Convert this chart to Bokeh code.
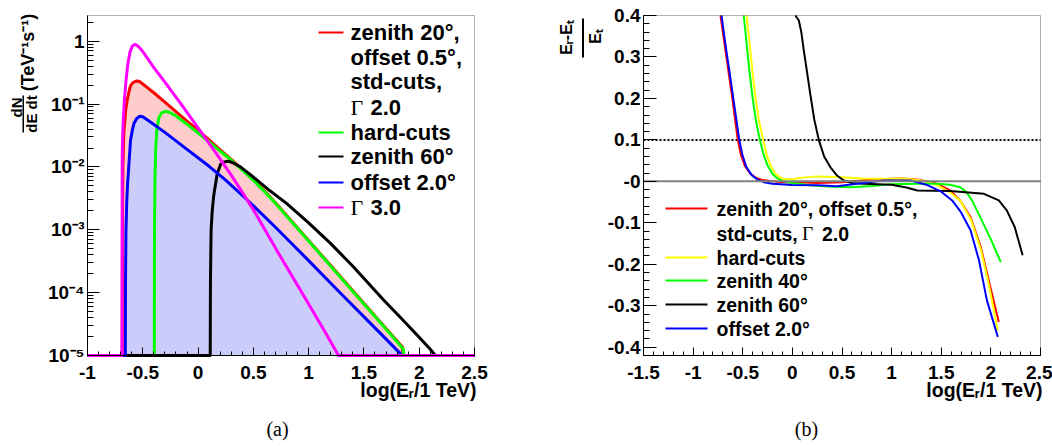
import math
from bokeh.plotting import figure
from bokeh.layouts import row
from bokeh.models import (Range1d, FixedTicker, SingleIntervalTicker,
                          CustomJSTickFormatter, Label, BoxAnnotation)
from bokeh.embed import file_html
from bokeh.resources import INLINE

# ---------------- data: panel (a)  log10(E_r/1 TeV) vs log10(dN/dE dt) ----------------
FLOOR_LOG = -5.0   # histogram minimum drawn at 1e-5

a_std_x = [-1.0, -0.686, -0.684, -0.68, -0.672, -0.655, -0.641, -0.625, -0.611, -0.59, -0.57,
           -0.551, -0.53, -0.50, -0.45, -0.40, -0.30, -0.20, -0.10, 0.00, 0.10, 0.20, 0.30,
           0.40, 0.50, 0.60, 0.70, 0.80, 0.90, 1.00, 1.20, 1.40, 1.60, 1.80, 1.85, 1.852, 2.5]
a_std_logy = [-5, -5, -3.0, -2.0, -1.47, -1.10, -0.94, -0.80, -0.71, -0.66, -0.64,
              -0.632, -0.64, -0.68, -0.75, -0.82, -0.97, -1.12, -1.27, -1.42, -1.57, -1.73, -1.88,
              -2.04, -2.20, -2.38, -2.57, -2.77, -2.97, -3.17, -3.57, -3.97, -4.37, -4.77, -4.87, -5, -5]

a_hard_x = [-1.0, -0.396, -0.394, -0.39, -0.383, -0.372, -0.355, -0.33, -0.295, -0.26, -0.20,
            -0.10, 0.00, 0.10, 0.20, 0.30, 0.40, 0.50, 0.60, 0.70, 0.80, 0.90, 1.00, 1.20,
            1.40, 1.60, 1.80, 1.857, 1.859, 2.5]
a_hard_logy = [-5, -5, -3.0, -2.2, -1.7, -1.40, -1.22, -1.14, -1.115, -1.13, -1.19,
               -1.32, -1.46, -1.60, -1.75, -1.89, -2.05, -2.21, -2.39, -2.58, -2.78, -2.98, -3.18, -3.58,
               -3.98, -4.38, -4.78, -4.90, -5, -5]

a_z60_x = [-1.0, 0.110, 0.112, 0.118, 0.128, 0.142, 0.173, 0.203, 0.235, 0.272, 0.31, 0.383,
           0.45, 0.534, 0.65, 0.80, 1.00, 1.20, 1.40, 1.68, 1.85, 2.01, 2.10, 2.146, 2.148, 2.5]
a_z60_logy = [-5, -5, -3.8, -3.0, -2.7, -2.45, -2.11, -1.96, -1.92, -1.91, -1.93, -2.0,
              -2.09, -2.21, -2.38, -2.58, -2.89, -3.22, -3.58, -4.12, -4.43, -4.73, -4.90, -5.0, -5, -5]

a_off2_x = [-1.0, -0.658, -0.656, -0.652, -0.645, -0.637, -0.627, -0.611, -0.595, -0.58, -0.555,
            -0.527, -0.50, -0.45, -0.30, -0.10, 0.10, 0.25, 0.46, 0.70, 1.00, 1.30, 1.60, 1.83,
            1.832, 2.5]
a_off2_logy = [-5, -5, -3.8, -3.0, -2.55, -2.25, -2.0, -1.58, -1.42, -1.31, -1.23,
               -1.194, -1.20, -1.26, -1.45, -1.72, -1.99, -2.21, -2.55, -2.96, -3.49, -4.03, -4.56, -4.97,
               -5, -5]

a_g3_x = [-1.0, -0.688, -0.686, -0.68, -0.675, -0.665, -0.65, -0.635, -0.615, -0.595, -0.572,
          -0.55, -0.52, -0.49, -0.40, -0.30, -0.15, 0.00, 0.15, 0.30, 0.50, 0.73, 1.00, 1.15,
          1.27, 1.272, 2.5]
a_g3_logy = [-5, -5, -1.8, -1.4, -1.2, -0.9, -0.6, -0.36, -0.17, -0.08, -0.05,
             -0.07, -0.12, -0.19, -0.42, -0.65, -1.01, -1.38, -1.75, -2.13, -2.68, -3.38, -4.18, -4.63,
             -5.0, -5, -5]

a_yticks_exp = [-5, -4, -3, -2, -1, 0]

# ---------------- data: panel (b)  (E_r - E_t)/E_t vs log10(E_r/1 TeV) ----------------
b_std_x = [-0.724, -0.695, -0.665, -0.635, -0.605, -0.578, -0.55, -0.52, -0.48, -0.43,
           -0.37, -0.30, -0.20, -0.10, 0.10, 0.25, 0.50, 0.75, 1.00, 1.12, 1.30, 1.45, 1.59,
           1.69, 1.795, 1.90, 1.98, 2.08]
b_std_y = [0.40, 0.35, 0.30, 0.25, 0.20, 0.15, 0.10, 0.065, 0.038, 0.02,
           0.009, 0.003, 0.0, -0.002, -0.003, -0.004, -0.002, 0.003, 0.006, 0.007, 0.003, -0.005, -0.022,
           -0.046, -0.086, -0.16, -0.24, -0.339]

b_hard_x = [-0.462, -0.43, -0.40, -0.37, -0.34, -0.294, -0.26, -0.22, -0.17, -0.10,
            0.00, 0.10, 0.25, 0.50, 0.70, 0.92, 1.12, 1.30, 1.45, 1.59, 1.69, 1.795, 1.90,
            1.98, 2.07]
b_hard_y = [0.40, 0.33, 0.26, 0.20, 0.15, 0.10, 0.065, 0.038, 0.018, 0.006,
            0.005, 0.009, 0.012, 0.010, 0.007, 0.0065, 0.007, 0.002, -0.008, -0.027, -0.046, -0.09, -0.165,
            -0.25, -0.36]

b_z40_x = [-0.49, -0.46, -0.43, -0.40, -0.37, -0.328, -0.29, -0.25, -0.20, -0.15,
           -0.087, 0.00, 0.20, 0.40, 0.586, 0.80, 1.00, 1.26, 1.45, 1.59, 1.69, 1.75, 1.81,
           1.90, 2.00, 2.10]
b_z40_y = [0.40, 0.33, 0.26, 0.20, 0.15, 0.10, 0.065, 0.038, 0.018, 0.007,
           0.0, -0.004, -0.010, -0.013, -0.014, -0.011, -0.007, -0.006, -0.006, -0.008, -0.014, -0.025, -0.046,
           -0.09, -0.14, -0.195]

b_z60_x = [0.03, 0.065, 0.09, 0.115, 0.15, 0.18, 0.22, 0.266, 0.32, 0.384, 0.45,
           0.518, 0.60, 0.72, 1.00, 1.15, 1.26, 1.59, 1.93, 2.08, 2.16, 2.24, 2.32]
b_z60_y = [0.40, 0.388, 0.36, 0.316, 0.26, 0.211, 0.15, 0.10, 0.06, 0.034, 0.014,
           0.002, -0.004, -0.006, -0.008, -0.015, -0.022, -0.023, -0.030, -0.046, -0.07, -0.11, -0.178]

b_off2_x = [-0.714, -0.686, -0.656, -0.625, -0.595, -0.565, -0.535, -0.505, -0.465, -0.41,
            -0.35, -0.288, -0.20, 0.00, 0.25, 0.45, 0.65, 0.92, 1.19, 1.35, 1.50, 1.61, 1.70,
            1.795, 1.88, 1.96, 2.07]
b_off2_y = [0.40, 0.35, 0.30, 0.25, 0.20, 0.15, 0.10, 0.065, 0.035, 0.015,
            0.004, -0.002, -0.006, -0.009, -0.0096, -0.012, -0.006, 0.002, 0.002, -0.008, -0.025, -0.046, -0.075,
            -0.118, -0.19, -0.287, -0.375]

b_ref_zero = 0.0
b_ref_cut = 0.1

legend_a = ["zenith 20°,", "offset 0.5°,", "std-cuts,", "2.0", "hard-cuts", "zenith 60°", "offset 2.0°", "3.0"]
legend_b = ["zenith 20°, offset 0.5°,", "std-cuts,", "2.0", "hard-cuts", "zenith 40°", "zenith 60°", "offset 2.0°"]

# ---------------- helpers (layout: reference pixel positions -> data coords) ----------------
W, H = 526, 446
SANS = "Liberation Sans"
SERIF = "Liberation Serif"

LXR = (-1.0, 2.5); LFX = (87, 474)       # panel (a) box in page pixels
LYR = (-5.0, 0.409); FY = (15, 355)       # both boxes: top / bottom pixel
RXR = (-1.5, 2.5); RFX = (643, 1040)      # panel (b) box in page pixels
RYR = (-0.42, 0.40)
OFF = 526                                 # page x of panel (b) canvas


def lx(px):
    return LXR[0] + (px - LFX[0]) * (LXR[1] - LXR[0]) / (LFX[1] - LFX[0])


def ly(py):
    return 10 ** (LYR[0] + (FY[1] - py) * (LYR[1] - LYR[0]) / (FY[1] - FY[0]))


def rx(px):
    return RXR[0] + (px - RFX[0]) * (RXR[1] - RXR[0]) / (RFX[1] - RFX[0])


def ry(py):
    return RYR[0] + (FY[1] - py) * (RYR[1] - RYR[0]) / (FY[1] - FY[0])


def lab(p, x, y, text, size, font=SANS, style="bold", align="left", baseline="middle", angle=0.0):
    p.add_layout(Label(x=x, y=y, text=text, text_font=font, text_font_style=style,
                       text_font_size=size, text_align=align, text_baseline=baseline,
                       angle=angle, text_color="black"))


def bar(p, l, r, t, b, color):
    p.add_layout(BoxAnnotation(left=l, right=r, top=t, bottom=b, fill_color=color,
                               fill_alpha=1.0, line_alpha=0.0, level="overlay"))


def make_fig(xr, yr, log=False):
    kw = dict(width=W, height=H, output_backend="svg", toolbar_location=None, title=None,
              x_range=Range1d(*xr), y_range=Range1d(*yr),
              min_border=0, min_border_left=0, min_border_right=0,
              min_border_top=0, min_border_bottom=0)
    if log:
        kw["y_axis_type"] = "log"
    p = figure(**kw)
    for ax in (p.xaxis[0], p.yaxis[0]):
        ax.axis_line_color = "black"
        ax.major_tick_line_color = "black"
        ax.minor_tick_line_color = "black"
        ax.major_tick_out = 0
        ax.minor_tick_out = 0
        ax.major_label_text_font = SANS
        ax.major_label_text_font_style = "bold"
        ax.major_label_text_font_size = "19px"
        ax.major_label_text_color = "black"
    p.grid.visible = False
    p.outline_line_color = None
    p.background_fill_color = "white"
    p.border_fill_color = "white"
    return p


# ---------------- panel (a) ----------------
pa = make_fig((lx(0), lx(W)), (ly(H), ly(0)), log=True)
pa.xaxis.fixed_location = 10 ** LYR[0]
pa.xaxis.bounds = LXR
pa.xaxis.ticker = SingleIntervalTicker(interval=0.5, num_minor_ticks=5)
pa.xaxis.formatter = CustomJSTickFormatter(code="return String(Math.round(tick*10)/10);")
pa.xaxis.major_tick_in = 8
pa.xaxis.minor_tick_in = 4
pa.xaxis.major_label_standoff = 10
pa.yaxis.fixed_location = LXR[0]
pa.yaxis.bounds = (10 ** LYR[0], 10 ** LYR[1])
dec = [10.0 ** e for e in a_yticks_exp]
minors = [m * 10.0 ** e for e in a_yticks_exp for m in range(2, 10) if m * 10.0 ** e < 10 ** LYR[1]]
pa.yaxis.ticker = FixedTicker(ticks=dec, minor_ticks=minors)
pa.yaxis.formatter = CustomJSTickFormatter(code="""
const e = Math.round(Math.log10(tick));
if (e == 0) { return "1"; }
const sup = {"-": "\u207b", "0": "\u2070", "1": "\u00b9", "2": "\u00b2", "3": "\u00b3",
             "4": "\u2074", "5": "\u2075", "6": "\u2076", "7": "\u2077", "8": "\u2078", "9": "\u2079"};
let s = "10";
for (const c of String(e)) { s += sup[c]; }
return s;
""")
pa.yaxis.major_tick_in = 12
pa.yaxis.minor_tick_in = 6
pa.yaxis.major_label_standoff = 3


def tolin(v):
    return [10 ** t for t in v]


floor = 10 ** FLOOR_LOG
pa.varea(x=a_std_x, y1=floor, y2=tolin(a_std_logy), fill_color="#FFCCCC", fill_alpha=1.0)
pa.varea(x=a_off2_x, y1=floor, y2=tolin(a_off2_logy), fill_color="#CCCCFA", fill_alpha=1.0)
for xs, ys, c in [(a_std_x, a_std_logy, "#FF0000"), (a_hard_x, a_hard_logy, "#00FF00"),
                  (a_z60_x, a_z60_logy, "black"), (a_off2_x, a_off2_logy, "#0000FF"),
                  (a_g3_x, a_g3_logy, "#FF00FF")]:
    pa.line(xs, tolin(ys), line_color=c, line_width=3, line_join="round")

# plot box (a)
pa.add_layout(BoxAnnotation(left=LXR[0], right=LXR[1], bottom=10 ** LYR[0], top=10 ** LYR[1],
                            fill_alpha=0.0, line_color="black", line_width=1, level="overlay"))

# legend (a)
rows_a = [32, 57, 81, 107, 132, 156, 182, 207]
samples_a = {0: "#FF0000", 4: "#00FF00", 5: "black", 6: "#0000FF", 7: "#FF00FF"}
for i, t in enumerate(legend_a):
    if i in (3, 7):
        lab(pa, lx(350), ly(rows_a[i]), "Γ", "22px", font=SERIF, style="normal")
        lab(pa, lx(370), ly(rows_a[i]), t, "22px")
    else:
        lab(pa, lx(350), ly(rows_a[i]), t, "22px")
    if i in samples_a:
        bar(pa, lx(318), lx(343), ly(rows_a[i] - 1), ly(rows_a[i] + 1), samples_a[i])

# axis titles (a)
lab(pa, lx(476), ly(389), "log(Eᵣ/1 TeV)", "19.5px", align="right")
lab(pa, lx(16), ly(107), "dN", "15px", align="center", angle=math.pi / 2)
bar(pa, lx(22), lx(23.5), ly(95), ly(132), "black")
lab(pa, lx(30.5), ly(113.5), "dE dt", "15px", align="center", angle=math.pi / 2)
lab(pa, lx(27), ly(52), "(TeV⁻¹s⁻¹)", "18px", align="center", angle=math.pi / 2)
lab(pa, lx(277), ly(428), "(a)", "20px", font=SERIF, style="normal", align="center")

# ---------------- panel (b) ----------------
pb = make_fig((rx(OFF), rx(OFF + W)), (ry(H), ry(0)))
pb.xaxis.fixed_location = RYR[0]
pb.xaxis.bounds = RXR
pb.xaxis.ticker = SingleIntervalTicker(interval=0.5, num_minor_ticks=5)
pb.xaxis.formatter = CustomJSTickFormatter(code="return String(Math.round(tick*10)/10);")
pb.xaxis.major_tick_in = 8
pb.xaxis.minor_tick_in = 4
pb.xaxis.major_label_standoff = 10
pb.yaxis.fixed_location = RXR[0]
pb.yaxis.bounds = RYR
pb.yaxis.ticker = SingleIntervalTicker(interval=0.1, num_minor_ticks=5)
pb.yaxis.formatter = CustomJSTickFormatter(code="""
const v = Math.round(tick*10)/10;
if (v === 0) { return "-0"; }
return v.toFixed(1);
""")
pb.yaxis.major_tick_in = 13
pb.yaxis.minor_tick_in = 6
pb.yaxis.major_label_standoff = 3

pb.line([RXR[0], RXR[1]], [b_ref_cut, b_ref_cut], line_color="black", line_width=2, line_dash="2 2")
for xs, ys, c in [(b_std_x, b_std_y, "#FF0000"), (b_hard_x, b_hard_y, "#FFFF00"),
                  (b_z40_x, b_z40_y, "#00FF00"), (b_z60_x, b_z60_y, "black"),
                  (b_off2_x, b_off2_y, "#0000FF")]:
    pb.line(xs, ys, line_color=c, line_width=2, line_join="round")
pb.line([RXR[0], RXR[1]], [b_ref_zero, b_ref_zero], line_color="#808080", line_width=2)

pb.add_layout(BoxAnnotation(left=RXR[0], right=RXR[1], bottom=RYR[0], top=RYR[1],
                            fill_alpha=0.0, line_color="black", line_width=1, level="overlay"))

# legend (b)
rows_b = [208, 233, 233, 257, 280, 304, 328]
samples_b = {0: "#FF0000", 3: "#FFFF00", 4: "#00FF00", 5: "black", 6: "#0000FF"}
for i, t in enumerate(legend_b):
    if i == 2:
        lab(pb, rx(801.5), ry(rows_b[i]), "Γ", "19.5px", font=SERIF, style="normal")
        lab(pb, rx(821.5), ry(rows_b[i]), t, "19.5px")
    else:
        lab(pb, rx(716), ry(rows_b[i]), t, "19.5px")
    if i in samples_b:
        bar(pb, rx(665), rx(707), ry(rows_b[i] - 1), ry(rows_b[i] + 1), samples_b[i])

# axis titles (b)
lab(pb, rx(1042), ry(389), "log(Eᵣ/1 TeV)", "19.5px", align="right")
lab(pb, rx(566), ry(37), "Eᵣ-Eₜ", "16px", align="center", angle=math.pi / 2)
bar(pb, rx(581.5), rx(583.5), ry(18), ry(57), "black")
lab(pb, rx(595), ry(36), "Eₜ", "16px", align="center", angle=math.pi / 2)
lab(pb, rx(806), ry(428), "(b)", "20px", font=SERIF, style="normal", align="center")

layout = row(pa, pb)
with open("out.html", "w", encoding="utf-8") as f:
    f.write(file_html(layout, INLINE))
